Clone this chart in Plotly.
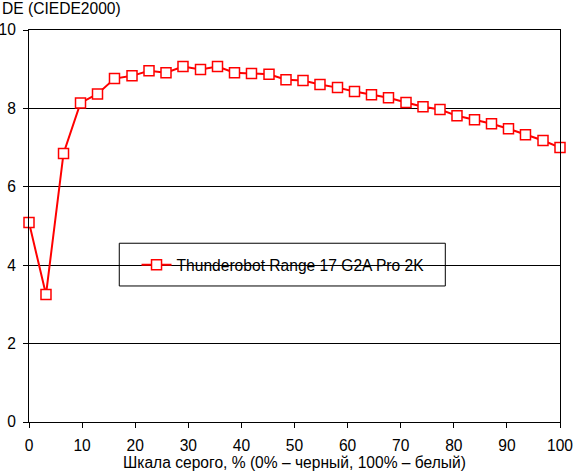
import plotly.graph_objects as go

# grey scale steps, % (0% black, 100% white)
gray_levels = [0, 3.2, 6.5, 9.7, 12.9, 16.1, 19.4, 22.6, 25.8, 29.0, 32.3, 35.5,
               38.7, 41.9, 45.2, 48.4, 51.6, 54.8, 58.1, 61.3, 64.5, 67.7, 71.0,
               74.2, 77.4, 80.6, 83.9, 87.1, 90.3, 93.5, 96.8, 100]

# colour deviation per step
delta_e = [5.09, 3.25, 6.85, 8.14, 8.37, 8.76, 8.83, 8.96, 8.91, 9.07, 8.99, 9.07,
           8.91, 8.89, 8.87, 8.73, 8.71, 8.61, 8.53, 8.43, 8.35, 8.27, 8.15,
           8.04, 7.97, 7.81, 7.71, 7.61, 7.48, 7.33, 7.18, 7.00]

series_name = "Thunderobot Range 17 G2A Pro 2K"
x_ticks = [0, 10, 20, 30, 40, 50, 60, 70, 80, 90, 100]
y_ticks = [0, 2, 4, 6, 8, 10]

font_face = "Liberation Sans, Arial, sans-serif"
fsize = 15.6

fig = go.Figure()
fig.add_trace(go.Scatter(
    x=gray_levels, y=delta_e, name=series_name,
    mode="lines+markers",
    line=dict(color="#ff0000", width=2),
    marker=dict(symbol="square", size=10, color="white",
                line=dict(color="#ff0000", width=1.5)),
    cliponaxis=False,
    showlegend=True,
))

axis_common = dict(
    showline=True, linecolor="black", linewidth=1, mirror=True,
    ticks="outside", ticklen=5, tickcolor="black", tickwidth=1,
    tickfont=dict(family=font_face, size=fsize, color="black"),
    zeroline=False, automargin=False, ticklabeloverflow="allow",
)

fig.update_xaxes(range=[0, 100], tickvals=x_ticks, showgrid=False,
                 ticklabelstandoff=4,
                 title=dict(text="Шкала серого, % (0% – черный, 100% – белый)",
                            font=dict(family=font_face, size=fsize, color="black"),
                            standoff=4),
                 **axis_common)
fig.update_yaxes(range=[0, 10], tickvals=y_ticks, showgrid=True,
                 gridcolor="black", gridwidth=1, ticklabelstandoff=4,
                 **axis_common)

# legend frame
fig.add_shape(type="rect", xref="paper", yref="paper",
              x0=0.170, x1=0.784, y0=0.347, y1=0.456,
              fillcolor="white", line=dict(color="black", width=1),
              layer="between")

fig.add_annotation(text="DE (CIEDE2000)", xref="paper", yref="paper",
                   x=-29 / 531, y=1 + 22 / 392, xanchor="left", yanchor="middle",
                   showarrow=False,
                   font=dict(family=font_face, size=fsize, color="black"))

fig.update_layout(
    width=573, height=472,
    margin=dict(l=29, r=13, t=30, b=50),
    paper_bgcolor="white", plot_bgcolor="white",
    showlegend=True,
    legend=dict(x=0.2025, xanchor="left", y=0.40, yanchor="middle",
                bgcolor="rgba(0,0,0,0)", borderwidth=0,
                font=dict(family=font_face, size=fsize, color="black")),
)

# drop the browser's default page margin so the figure sits at the corner
fig.write_html("out.html", config={"displayModeBar": False},
               post_script="document.body.style.margin = '0';")
